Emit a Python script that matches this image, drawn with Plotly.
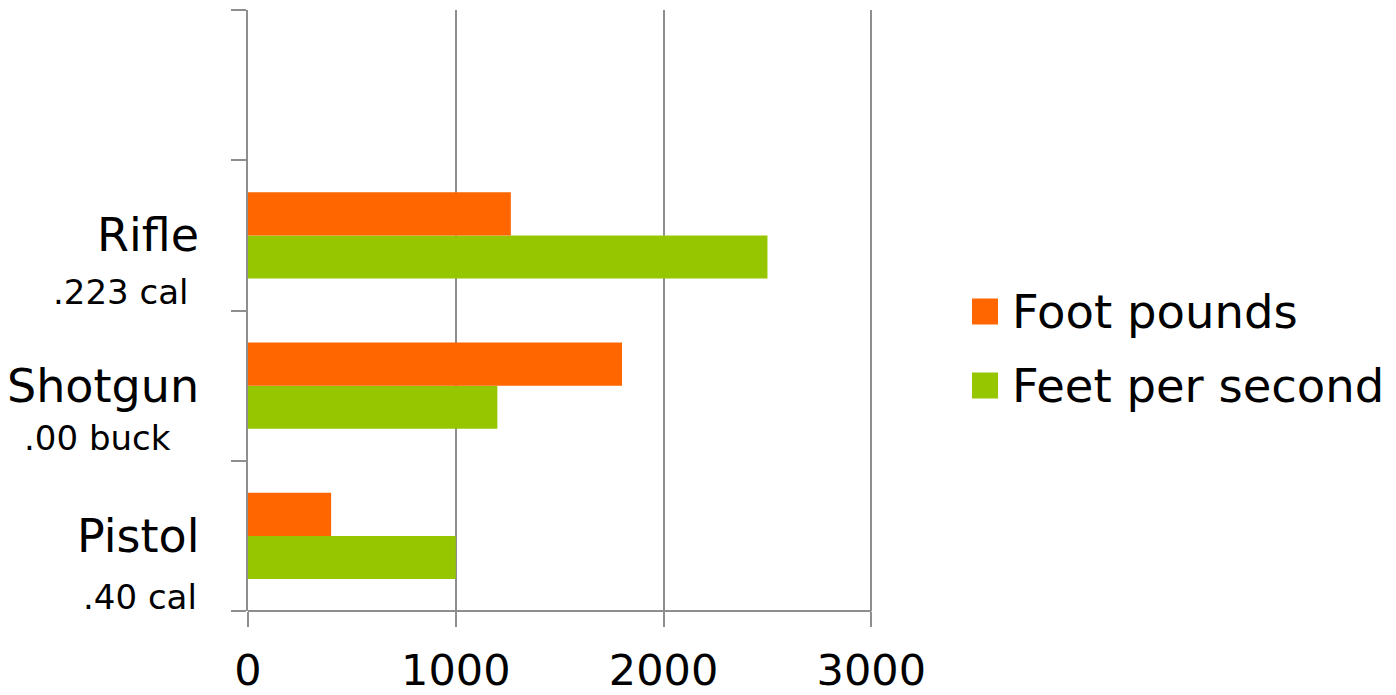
import plotly.graph_objects as go

# ---- data ----
categories = ["Pistol", "Shotgun", "Rifle"]
sub_labels = [".40 cal", ".00 buck", ".223 cal"]
foot_pounds = [400, 1800, 1265]
feet_per_second = [1000, 1200, 2500]
series_names = ["Foot pounds", "Feet per second"]
x_ticks = [0, 1000, 2000, 3000]

# ---- style ----
W, H = 1396, 695
L, R, T, B = 248, 873, 10, 611
X_MAX = 3008  # a little past 3000 so plotly keeps the last grid line
ORANGE = "#FF6600"
GREEN = "#95C600"
GRAY = "#8E8E8E"
FONT = "DejaVu Sans"

def px_x(p):
    return (p - L) / (R - L)

def px_y(p):
    return (B - p) / (B - T)

fig = go.Figure()
fig.add_trace(go.Bar(y=categories, x=feet_per_second, orientation="h",
                     name=series_names[1], marker=dict(color=GREEN, line_width=0),
                     showlegend=False))
fig.add_trace(go.Bar(y=categories, x=foot_pounds, orientation="h",
                     name=series_names[0], marker=dict(color=ORANGE, line_width=0),
                     showlegend=False))

n = len(categories)
bounds = [i - 0.5 for i in range(n + 2)]

fig.update_layout(
    width=W, height=H,
    margin=dict(l=L, r=W - R, t=T, b=H - B, autoexpand=False),
    paper_bgcolor="white", plot_bgcolor="white",
    barmode="group", bargap=0.427, bargroupgap=0,
    font=dict(family=FONT, color="black"),
    showlegend=False,
    xaxis=dict(range=[0, X_MAX], tickmode="array", tickvals=x_ticks,
               automargin=False,
               showgrid=True, gridcolor=GRAY, gridwidth=2,
               zeroline=False, showline=False,
               ticks="outside", ticklen=15, tickcolor=GRAY, tickwidth=2,
               tickfont=dict(size=43, color="black", family=FONT),
               ticklabelstandoff=6),
    yaxis=dict(type="category", categoryorder="array", categoryarray=categories,
               automargin=False,
               range=[-0.5, n + 0.5], tickmode="array", tickvals=bounds,
               ticktext=[""] * len(bounds), showgrid=False, zeroline=False,
               showline=True, linecolor=GRAY, linewidth=2,
               ticks="outside", ticklen=15, tickcolor=GRAY, tickwidth=2),
)

# x-axis baseline from 0 to the last tick
fig.add_shape(type="line", xref="x", yref="paper", x0=0, x1=x_ticks[-1], y0=0, y1=0,
              line=dict(color=GRAY, width=2))

# category labels
main_shift = [-47, -47, -47]
sub_xshift = [-49, -75, -57]
sub_yshift = [-61, -52, -57]
for i, (c, s) in enumerate(zip(categories, sub_labels)):
    fig.add_annotation(x=0, xref="paper", y=c, yref="y", text=c, showarrow=False,
                       xanchor="right", yanchor="middle", xshift=main_shift[i],
                       font=dict(size=46, family=FONT, color="black"))
    fig.add_annotation(x=0, xref="paper", y=c, yref="y", text=s, showarrow=False,
                       xanchor="right", yanchor="middle", xshift=sub_xshift[i],
                       yshift=sub_yshift[i],
                       font=dict(size=34, family=FONT, color="black"))

# legend (manual, for large square symbols)
leg_colors = [ORANGE, GREEN]
leg_centers = [311.5, 385.5]
for name, col, cy in zip(series_names, leg_colors, leg_centers):
    fig.add_shape(type="rect", xref="paper", yref="paper",
                  x0=px_x(972), x1=px_x(998), y0=px_y(cy + 13), y1=px_y(cy - 13),
                  fillcolor=col, line_width=0)
    fig.add_annotation(x=px_x(1010), xref="paper", y=px_y(cy), yref="paper",
                       text=name, showarrow=False, xanchor="left", yanchor="middle",
                       font=dict(size=46.5, family=FONT, color="black"))

fig.write_html("out.html")
